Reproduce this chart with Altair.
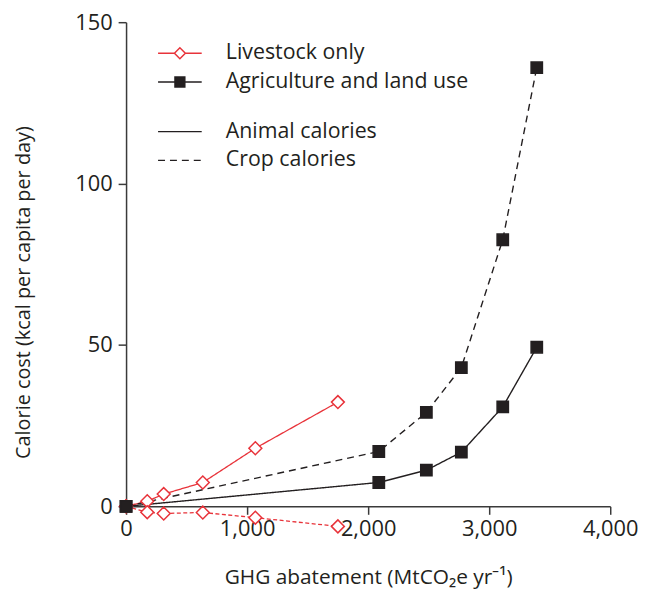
import altair as alt
import pandas as pd

# ---- data ----
series_names = ["Livestock only", "Agriculture and land use"]
calorie_names = ["Animal calories", "Crop calories"]

livestock_x = [0, 175, 311, 634, 1068, 1750]
livestock_animal = [0, 1.6, 3.8, 7.4, 18.0, 32.3]
livestock_crop = [0, -1.8, -2.2, -1.9, -3.5, -6.2]

agri_x = [0, 2088, 2481, 2770, 3112, 3393]
agri_animal = [0, 7.4, 11.2, 16.8, 30.8, 49.3]
agri_crop = [0, 17.0, 29.1, 43.0, 82.6, 135.9]

x_ticks = [0, 1000, 2000, 3000, 4000]
y_ticks = [0, 50, 100, 150]

RED = "#e8333a"
BLACK = "#231f20"
AXIS = "#3a3a3a"
FONT = "Open Sans"

rows = []
for name, xs, animal, crop in [
    (series_names[0], livestock_x, livestock_animal, livestock_crop),
    (series_names[1], agri_x, agri_animal, agri_crop),
]:
    for cal, ys in [(calorie_names[0], animal), (calorie_names[1], crop)]:
        for xv, yv in zip(xs, ys):
            rows.append({"x": xv, "y": yv, "series": name, "calorie": cal})
df = pd.DataFrame(rows)

x_enc = alt.X(
    "x:Q",
    scale=alt.Scale(domain=[0, 4000], nice=False),
    axis=alt.Axis(
        values=x_ticks, format=",.0f", grid=False, labelFlush=False,
        tickSize=8, tickWidth=1.5, tickColor=AXIS, domainColor=AXIS, domainWidth=1.5,
        labelFont=FONT, labelFontSize=22, labelColor=BLACK, labelPadding=4,
        title="GHG abatement (MtCO₂e yr⁻¹)", titleFont=FONT, titleFontSize=21,
        titleFontWeight="normal", titleColor=BLACK, titleY=78, titleBaseline="alphabetic",
    ),
)
y_enc = alt.Y(
    "y:Q",
    scale=alt.Scale(domain=[0, 150], nice=False),
    axis=alt.Axis(
        values=y_ticks, format=",.0f", grid=False,
        tickSize=8, tickWidth=1.5, tickColor=AXIS, domainColor=AXIS, domainWidth=1.5,
        labelFont=FONT, labelFontSize=22, labelColor=BLACK, labelPadding=6,
        title="Calorie cost (kcal per capita per day)", titleFont=FONT, titleFontSize=20,
        titleFontWeight="normal", titleColor=BLACK, titleX=-93, titleY=272,
    ),
)

legend_common = dict(
    title=None, orient="none", legendX=43.5, padding=0, labelOffset=35.5, rowPadding=6,
    labelFont=FONT, labelFontSize=21.5, labelColor=BLACK, symbolSize=121, labelLimit=0,
)

red_lines = (
    alt.Chart(df)
    .transform_filter(alt.datum.series == series_names[0])
    .mark_line(color=RED, strokeWidth=1.3)
    .encode(
        x=x_enc, y=y_enc,
        strokeDash=alt.StrokeDash(
            "calorie:N",
            scale=alt.Scale(domain=calorie_names, range=[[1, 0], [4, 2.5]]),
            legend=None,
        ),
    )
)

black_lines = (
    alt.Chart(df)
    .transform_filter(alt.datum.series == series_names[1])
    .mark_line(color=BLACK, strokeWidth=1.4)
    .encode(
        x=x_enc, y=y_enc,
        strokeDash=alt.StrokeDash(
            "calorie:N",
            scale=alt.Scale(domain=calorie_names, range=[[1, 0], [7, 5]]),
            legend=alt.Legend(
                legendY=99.5, symbolType="M-4,0H4", symbolStrokeWidth=1.3,
                symbolStrokeColor=BLACK, **legend_common,
            ),
        ),
    )
)

is_live = alt.datum.series == series_names[0]
points = (
    alt.Chart(df)
    .mark_point(opacity=1, strokeWidth=1.5)
    .encode(
        x=x_enc, y=y_enc,
        shape=alt.condition(is_live, alt.value("diamond"), alt.value("square")),
        size=alt.condition(is_live, alt.value(169), alt.value(130)),
        stroke=alt.condition(is_live, alt.value(RED), alt.value(BLACK)),
        fill=alt.condition(is_live, alt.value("white"), alt.value(BLACK)),
    )
)

# legend carrier: draws no marks, only provides the series legend
legend_shapes = [
    "M-4,0H-1M1,0H4M-1,0L0,-1L1,0L0,1Z",
    "M-4,0H4M-0.9,-0.9H0.9V0.9H-0.9Z",
]
series_legend_def = alt.Legend(legendY=20.5, symbolStrokeWidth=1.5, **legend_common)
series_legend = (
    alt.Chart(df)
    .transform_filter("false")
    .mark_point(opacity=1, strokeWidth=1.5)
    .encode(
        x=x_enc, y=y_enc,
        shape=alt.Shape("series:N", scale=alt.Scale(domain=series_names, range=legend_shapes),
                        legend=series_legend_def),
        stroke=alt.Stroke("series:N", scale=alt.Scale(domain=series_names, range=[RED, BLACK]),
                          legend=series_legend_def),
        fill=alt.Fill("series:N", scale=alt.Scale(domain=series_names, range=["white", BLACK]),
                      legend=series_legend_def),
    )
)

chart = (
    alt.layer(red_lines, black_lines, points, series_legend)
    .resolve_scale(strokeDash="independent")
    .properties(
        width=488, height=488,
        autosize=alt.AutoSizeParams(type="none"),
        padding={"left": 119, "top": 12, "right": 30, "bottom": 83},
        background="white",
    )
    .configure_view(stroke=None)
)

chart.save("out.html", embed_options={"renderer": "svg", "actions": False})
